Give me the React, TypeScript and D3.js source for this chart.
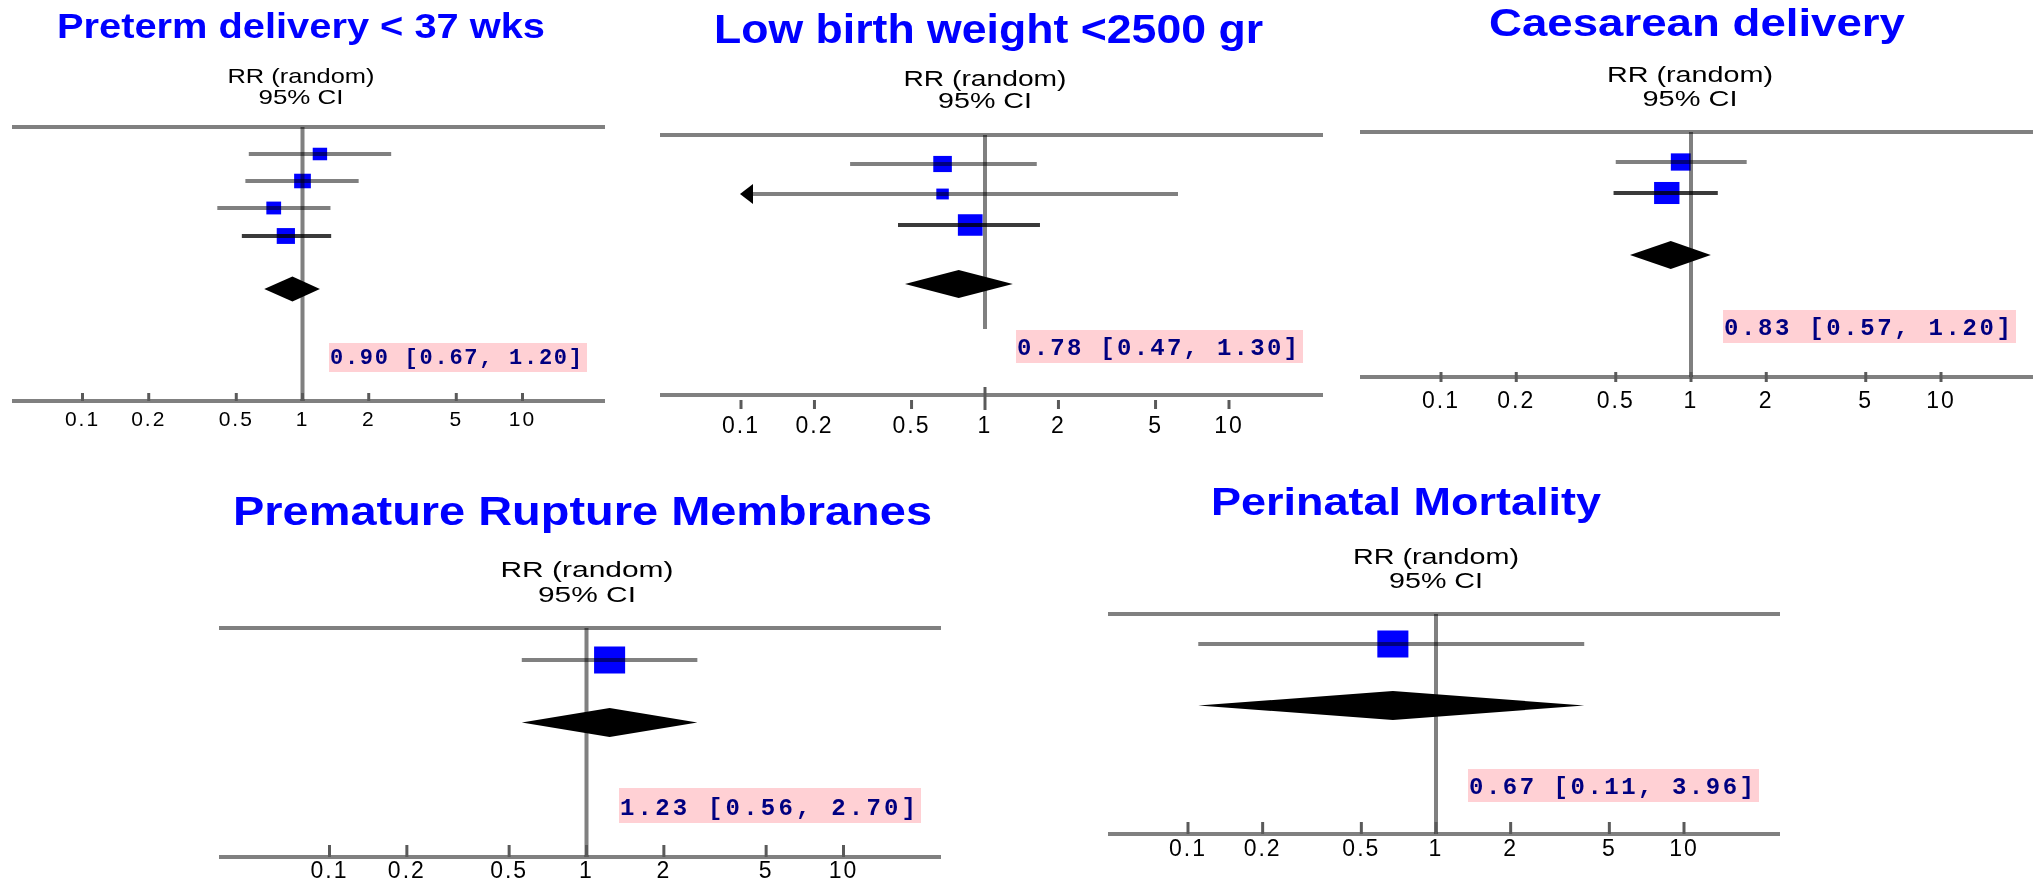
import React from "react";
import * as d3 from "d3";

// ---------- DATA ----------
const panelTitles = [
  "Preterm delivery < 37 wks",
  "Low birth weight <2500 gr",
  "Caesarean delivery",
  "Premature Rupture Membranes",
  "Perinatal Mortality",
];

const headerLine1 = "RR (random)";
const headerLine2 = "95% CI";

// study-level risk ratios, 95% CI and weights (%)
const pretermRR = [1.2, 1.0, 0.74, 0.84];
const pretermLo = [0.57, 0.55, 0.41, 0.53];
const pretermHi = [2.53, 1.8, 1.34, 1.35];
const pretermWeight = [20, 27, 21, 32];

const lbwRR = [0.67, 0.67, 0.87];
const lbwLo = [0.28, 0.06, 0.44];
const lbwHi = [1.63, 6.18, 1.68];
const lbwWeight = [31, 14, 55];

const caesRR = [0.91, 0.8];
const caesLo = [0.5, 0.49];
const caesHi = [1.67, 1.28];
const caesWeight = [38, 62];

const promRR = [1.23];
const promLo = [0.56];
const promHi = [2.7];
const promWeight = [100];

const perinatalRR = [0.67];
const perinatalLo = [0.11];
const perinatalHi = [3.96];
const perinatalWeight = [100];

// pooled (random effects) estimates
const pooledRR = [0.9, 0.78, 0.83, 1.23, 0.67];
const pooledLo = [0.67, 0.47, 0.57, 0.56, 0.11];
const pooledHi = [1.2, 1.3, 1.2, 2.7, 3.96];

const tickValues = [0.1, 0.2, 0.5, 1, 2, 5, 10];
const tickLabels = ["0.1", "0.2", "0.5", "1", "2", "5", "10"];

type Study = { rr: number; lo: number; hi: number; w: number };
const zipStudies = (rr: number[], lo: number[], hi: number[], w: number[]): Study[] =>
  rr.map((v, i) => ({ rr: v, lo: lo[i], hi: hi[i], w: w[i] }));

const studySets: Study[][] = [
  zipStudies(pretermRR, pretermLo, pretermHi, pretermWeight),
  zipStudies(lbwRR, lbwLo, lbwHi, lbwWeight),
  zipStudies(caesRR, caesLo, caesHi, caesWeight),
  zipStudies(promRR, promLo, promHi, promWeight),
  zipStudies(perinatalRR, perinatalLo, perinatalHi, perinatalWeight),
];

// ---------- LAYOUT ----------
type Layout = {
  x0: number; x1: number; lineL: number; lineR: number; topY: number; axisY: number; vBottom: number;
  rowY: number[]; diaY: number; diaH: number; box: [number, number, number, number];
  title: [number, number, number, number]; rrX: number; rr1Y: number; rr2Y: number; rr1W: number; rr2W: number;
  hdrFont: number; tickLabelY: number; tickFont: number; tick: [number, number]; oneTick?: [number, number];
  sqMax: number; labelFont: number;
};

const layouts: Layout[] = [
  { x0: 82.5, x1: 522.5, lineL: 12, lineR: 605, topY: 127, axisY: 401, vBottom: 401,
    rowY: [154, 181, 208, 236], diaY: 289, diaH: 12.5, box: [329, 343, 587, 372],
    title: [57, 38, 488, 35], rrX: 301, rr1Y: 83, rr2Y: 104, rr1W: 147, rr2W: 85, hdrFont: 21,
    tickLabelY: 426, tickFont: 21, tick: [-8, 0], sqMax: 28, labelFont: 22 },
  { x0: 741, x1: 1229, lineL: 660, lineR: 1323, topY: 135, axisY: 395, vBottom: 329,
    rowY: [164, 194, 225], diaY: 284, diaH: 14, box: [1016, 330, 1303, 363],
    title: [714, 43, 549, 40], rrX: 985, rr1Y: 86, rr2Y: 108, rr1W: 163, rr2W: 94, hdrFont: 22,
    tickLabelY: 433, tickFont: 23, tick: [5, 14], oneTick: [-8, 15], sqMax: 29, labelFont: 24 },
  { x0: 1441, x1: 1941, lineL: 1360, lineR: 2033, topY: 132, axisY: 377, vBottom: 377,
    rowY: [162, 193], diaY: 255, diaH: 14, box: [1723, 310, 2016, 343],
    title: [1489, 36, 416, 39], rrX: 1690, rr1Y: 82, rr2Y: 106, rr1W: 166, rr2W: 95, hdrFont: 22,
    tickLabelY: 408, tickFont: 23, tick: [-5, 5], sqMax: 28, labelFont: 24 },
  { x0: 329.5, x1: 843.5, lineL: 219, lineR: 941, topY: 628, axisY: 857, vBottom: 857,
    rowY: [660], diaY: 722.5, diaH: 14.5, box: [619, 788, 921, 823],
    title: [233, 525, 699, 41], rrX: 587, rr1Y: 577, rr2Y: 602, rr1W: 173, rr2W: 98, hdrFont: 22,
    tickLabelY: 878, tickFont: 23, tick: [-12, 0], sqMax: 27, labelFont: 24 },
  { x0: 1188, x1: 1684, lineL: 1108, lineR: 1780, topY: 614, axisY: 834, vBottom: 834,
    rowY: [644], diaY: 705.5, diaH: 14.5, box: [1468, 769, 1759, 802],
    title: [1211, 515, 390, 39], rrX: 1436, rr1Y: 564, rr2Y: 588, rr1W: 166, rr2W: 94, hdrFont: 22,
    tickLabelY: 856, tickFont: 23, tick: [-12, 0], sqMax: 27, labelFont: 24 },
];

const GRAY = "#808080";
const DARK = "#3a3a3a";
const BLUE = "#0000ff";
const PINK = "#ffd0d4";
const NAVY = "#000080";

const fmt = d3.format(".2f");

function Panel({ idx }: { idx: number }) {
  const L = layouts[idx];
  const studies = studySets[idx];
  const x = d3.scaleLog().domain([0.1, 10]).range([L.x0, L.x1]);
  const size = d3.scaleSqrt().domain([0, 100]).range([0, L.sqMax]);
  const maxW = d3.max(studies, (s) => s.w) ?? 0;
  const [bx0, by0, bx1, by1] = L.box;
  const [tx, ty, tw, tf] = L.title;
  const label = `${fmt(pooledRR[idx])} [${fmt(pooledLo[idx])}, ${fmt(pooledHi[idx])}]`;
  const dLo = x(pooledLo[idx]);
  const dHi = x(pooledHi[idx]);
  const dC = x(pooledRR[idx]);

  return (
    <g>
      {/* title */}
      <text x={tx} y={ty} textLength={tw} lengthAdjust="spacingAndGlyphs" fontFamily="'Liberation Sans', Arial, sans-serif"
        fontWeight="bold" fontSize={tf} fill={BLUE}>{panelTitles[idx]}</text>
      {/* header */}
      <text x={L.rrX - L.rr1W / 2} y={L.rr1Y} textLength={L.rr1W} lengthAdjust="spacingAndGlyphs"
        fontFamily="'Liberation Sans', Arial, sans-serif" fontSize={L.hdrFont} fill="#000">{headerLine1}</text>
      <text x={L.rrX - L.rr2W / 2} y={L.rr2Y} textLength={L.rr2W} lengthAdjust="spacingAndGlyphs"
        fontFamily="'Liberation Sans', Arial, sans-serif" fontSize={L.hdrFont} fill="#000">{headerLine2}</text>

      {/* pink result box */}
      <rect x={bx0} y={by0} width={bx1 - bx0} height={by1 - by0} fill={PINK} />
      <text x={bx0 + 1} y={by1 - 8} textLength={bx1 - bx0 - 6} lengthAdjust="spacing"
        fontFamily="'Liberation Mono', 'Courier New', monospace" fontWeight="bold" fontSize={L.labelFont} fill={NAVY}>{label}</text>

      {/* squares */}
      {studies.map((s, i) => {
        const h = size(s.w);
        const w = h * 1.15;
        return <rect key={"sq" + i} x={x(s.rr) - w / 2} y={L.rowY[i] - h / 2} width={w} height={h} fill={BLUE} />;
      })}

      {/* pooled diamond */}
      <polygon points={`${dLo},${L.diaY} ${dC},${L.diaY - L.diaH} ${dHi},${L.diaY} ${dC},${L.diaY + L.diaH}`} fill="#000" />

      {/* lines (multiply so crossings darken) */}
      <g style={{ mixBlendMode: "multiply" }}>
        <line x1={L.lineL} x2={L.lineR} y1={L.topY} y2={L.topY} stroke={GRAY} strokeWidth={4} />
        <line x1={L.lineL} x2={L.lineR} y1={L.axisY} y2={L.axisY} stroke={GRAY} strokeWidth={4} />
      </g>
      <g style={{ mixBlendMode: "multiply" }}>
        <line x1={x(1)} x2={x(1)} y1={L.topY} y2={L.vBottom} stroke={GRAY} strokeWidth={4} />
      </g>
      {studies.map((s, i) => {
        const clipped = s.lo < 0.1;
        const xl = clipped ? x(0.1) + 12 : x(s.lo);
        const xr = x(Math.min(s.hi, 10));
        const y = L.rowY[i];
        const col = studies.length > 1 && s.w === maxW ? DARK : GRAY;
        return (
          <g key={"ci" + i}>
            <g style={{ mixBlendMode: "multiply" }}>
              <line x1={xl} x2={xr} y1={y} y2={y} stroke={col} strokeWidth={4} />
            </g>
            {clipped && (
              <polygon points={`${x(0.1) - 1},${y} ${x(0.1) + 12},${y - 10} ${x(0.1) + 12},${y + 10}`} fill="#000" />
            )}
          </g>
        );
      })}

      {/* ticks and labels */}
      {tickValues.map((t, i) => {
        const ext = t === 1 && L.oneTick ? L.oneTick : L.tick;
        return (
          <g key={"t" + i}>
            <line x1={x(t)} x2={x(t)} y1={L.axisY + ext[0]} y2={L.axisY + ext[1]} stroke="#5a5a5a" strokeWidth={3} />
            <text x={x(t)} y={L.tickLabelY} textAnchor="middle" fontFamily="'Liberation Sans', Arial, sans-serif"
              fontSize={L.tickFont} letterSpacing={2} fill="#000">{tickLabels[i]}</text>
          </g>
        );
      })}
    </g>
  );
}

export default function App() {
  return (
    <svg width={2033} height={882} viewBox="0 0 2033 882"
      style={{ position: "absolute", left: 0, top: 0, background: "#fff", display: "block" }}>
      <rect x={0} y={0} width={2033} height={882} fill="#fff" />
      {layouts.map((_, i) => (
        <Panel key={i} idx={i} />
      ))}
    </svg>
  );
}
